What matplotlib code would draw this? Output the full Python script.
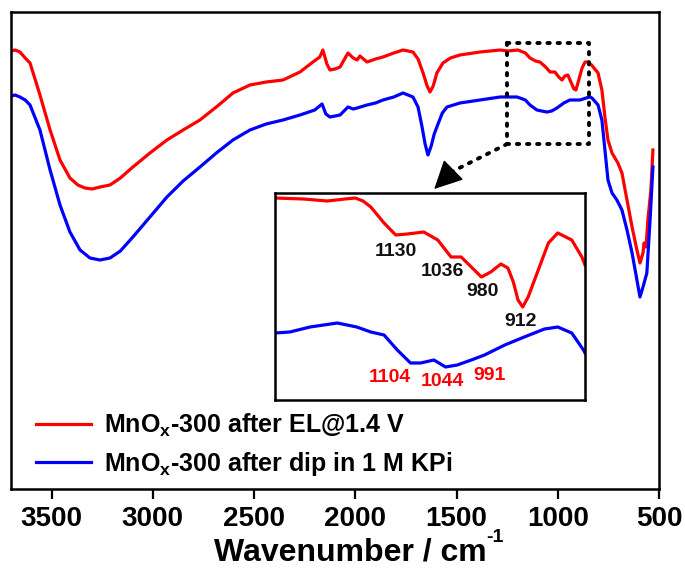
import numpy as np
import matplotlib
matplotlib.use('Agg')
import matplotlib.pyplot as plt

plt.rcParams['font.family'] = ['Liberation Sans', 'DejaVu Sans']
plt.rcParams['font.weight'] = 'bold'
plt.rcParams['mathtext.default'] = 'bf'

# main spectra (wavenumber / cm-1, transmittance a.u.)
wn_red = [3700, 3680, 3656, 3630, 3606, 3557, 3507, 3458, 3409, 3370, 3335, 3300, 3260,
          3211, 3160, 3098, 3014, 2930, 2850, 2767, 2680, 2604, 2520, 2440, 2357, 2273,
          2209, 2175, 2160, 2140, 2125, 2100, 2075, 2036, 2010, 1991, 1977, 1942, 1900,
          1863, 1810, 1764, 1715, 1690, 1665, 1645, 1631, 1615, 1597, 1567, 1530, 1483,
          1384, 1285, 1246, 1197, 1160, 1137, 1110, 1088, 1060, 1038, 1014, 995, 979,
          965, 950, 935, 920, 910, 895, 880, 865, 851, 833, 801, 782, 767, 752, 732, 703,
          683, 658, 633, 609, 594, 579, 574, 564, 555, 540, 530]
t_red = [438, 439, 437, 431, 426, 394, 359, 329, 311, 304, 301, 300, 302,
         304, 311, 322, 336, 349, 359, 369, 383, 396, 404, 407, 409, 417,
         427, 432, 439, 425, 419, 420, 422, 436, 431, 429, 433, 427, 430,
         432, 436, 439, 437, 430, 416, 403, 397, 403, 416, 426, 431, 434,
         437, 439, 438, 439, 436, 431, 428, 427, 422, 417, 417, 412, 409,
         413, 414, 407, 400, 399, 410, 421, 427, 427, 424, 416, 399, 372, 349, 336, 326,
         316, 289, 262, 239, 226, 236, 246, 242, 269, 299, 339]

wn_blue = [3700, 3680, 3656, 3630, 3606, 3557, 3507, 3458, 3409, 3359, 3310, 3260, 3211,
           3160, 3098, 3014, 2930, 2850, 2767, 2680, 2604, 2520, 2440, 2357, 2273, 2200,
           2164, 2145, 2125, 2075, 2036, 2010, 1991, 1942, 1900, 1863, 1810, 1764, 1715,
           1690, 1670, 1655, 1641, 1625, 1610, 1597, 1570, 1547, 1483, 1384, 1285, 1201,
           1160, 1137, 1103, 1080, 1053, 1030, 1004, 970, 940, 890, 860, 841, 831, 801,
           782, 767, 752, 732, 708, 683, 658, 633, 609, 594, 579, 560, 545, 530]
t_blue = [393, 394, 392, 389, 384, 359, 319, 284, 257, 239, 231, 229, 231,
          238, 252, 272, 292, 308, 322, 337, 349, 359, 365, 369, 374, 379,
          385, 375, 372, 374, 382, 380, 381, 384, 386, 389, 392, 396, 392,
          382, 362, 345, 334, 343, 355, 362, 376, 382, 386, 389, 392, 392,
          389, 384, 379, 378, 377, 378, 381, 386, 389, 389, 391, 392, 391, 384,
          369, 339, 309, 296, 289, 279, 259, 236, 209, 192, 202, 216, 266, 322]

# inset (zoom of 1250-850 cm-1)
wn_red_in = [1250, 1213, 1183, 1160, 1147, 1137, 1127, 1110, 1095, 1080, 1059, 1041, 1024,
             1011, 998, 985, 973, 960, 951, 944, 938, 932, 925, 912, 899, 887, 869, 856, 852]
t_red_in = [202, 201, 199, 201, 202, 199, 193, 177, 165, 166, 168, 160, 143,
            143, 133, 123, 128, 136, 132, 118, 100, 93, 103, 130, 157, 167, 160, 143, 135]
wn_blue_in = [1250, 1231, 1205, 1170, 1145, 1127, 1110, 1093, 1076, 1063, 1046, 1031, 1016,
              998, 981, 955, 930, 904, 887, 869, 854, 852]
t_blue_in = [67, 68, 73, 77, 73, 68, 65, 50, 37, 37, 40, 33, 35,
             40, 45, 55, 63, 71, 73, 67, 50, 47]

red_peaks = ['1130', '1036', '980', '912']
red_peak_pos = [(1095, 148), (1035, 128), (983, 108), (935, 79)]
blue_peaks = ['1104', '1044', '991']
blue_peak_pos = [(1103, 23), (1035, 19), (974, 24)]

labels = ['MnO$_\\mathregular{x}$-300 after EL@1.4 V',
          'MnO$_\\mathregular{x}$-300 after dip in 1 M KPi']

fig = plt.figure(figsize=(6.85, 5.77), dpi=100)
ax = fig.add_axes([11/685, 88/577, 648/685, 477/577])

ax.plot(wn_red, t_red, color='#ff0000', lw=2.3, label=labels[0], solid_joinstyle='round')
ax.plot(wn_blue, t_blue, color='#0000ff', lw=2.3, label=labels[1], solid_joinstyle='round')
ax.set_xlim(3700, 500)
ax.set_ylim(0, 477)
ax.set_yticks([])
ax.set_xticks([3500, 3000, 2500, 2000, 1500, 1000, 500])
ax.tick_params(axis='x', direction='out', length=7, width=1.6, labelsize=20, pad=5)
for s in ax.spines.values():
    s.set_linewidth(1.8)
ax.set_xlabel('Wavenumber / cm', fontsize=23, fontweight='bold')
ax.xaxis.set_label_coords(0.523, -0.101)
# superscript written as plain text so it keeps the hyphen
ax.annotate('-1', xy=(1.0, 0.72), xycoords=ax.xaxis.label, fontsize=14,
            fontweight='bold', ha='left', va='bottom')

# dotted box marking the zoomed region
bx = [1250, 845, 845, 1250, 1250]
by = [446, 446, 345, 345, 446]
dots = (0, (0.6, 2.0))
ax.plot(bx, by, color='k', ls=dots, lw=2.8, dash_capstyle='round')
ax.plot([1250, 1535], [345, 316], color='k', ls=dots, lw=2.8, dash_capstyle='round')
ax.annotate('', xy=(1610, 300), xytext=(1530, 316),
            arrowprops=dict(arrowstyle='-|>,head_length=0.5,head_width=0.25', color='k',
                            lw=1, mutation_scale=36, shrinkA=0, shrinkB=0))

leg = ax.legend(loc='upper left', bbox_to_anchor=(0.0386, 0.162), frameon=False,
                prop={'weight': 'bold', 'size': 18}, handlelength=2.2, handletextpad=0.5,
                borderaxespad=0, borderpad=0, labelspacing=0.45)

# inset
axi = fig.add_axes([275/685, 177/577, 310/685, 207/577])
axi.plot(wn_red_in, t_red_in, color='#ff0000', lw=2.3, solid_joinstyle='round')
axi.plot(wn_blue_in, t_blue_in, color='#0000ff', lw=2.3, solid_joinstyle='round')
axi.set_xlim(1250, 852)
axi.set_ylim(0, 207)
axi.set_xticks([])
axi.set_yticks([])
for s in axi.spines.values():
    s.set_linewidth(1.8)
for lab, (x, y) in zip(red_peaks, red_peak_pos):
    axi.text(x, y, lab, ha='center', va='center', fontsize=14, fontweight='bold', color='#111111')
for lab, (x, y) in zip(blue_peaks, blue_peak_pos):
    axi.text(x, y, lab, ha='center', va='center', fontsize=14, fontweight='bold', color='#ff0000')

fig.savefig('out.png', dpi=100)
